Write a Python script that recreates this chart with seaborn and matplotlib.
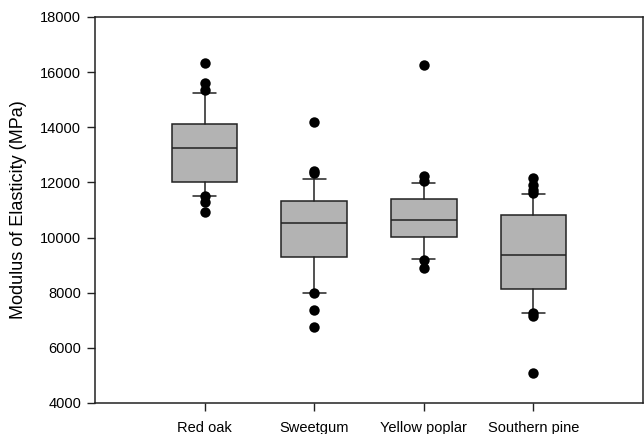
import matplotlib
matplotlib.use("Agg")
import matplotlib.pyplot as plt
import seaborn as sns
import pandas as pd

# ---- data ----
species = ["Red oak", "Sweetgum", "Yellow poplar", "Southern pine"]
q1 = [12030, 9300, 10030, 8140]
median = [13240, 10520, 10620, 9360]
q3 = [14110, 11320, 11390, 10810]
whisker_low = [11520, 8000, 9210, 7280]
whisker_high = [15240, 12120, 11990, 11570]
outliers_red_oak = [16330, 15600, 15350, 11500, 11280, 10940]
outliers_sweetgum = [14180, 12400, 12330, 7980, 7370, 6750]
outliers_yellow_poplar = [16270, 12230, 12060, 9200, 8890]
outliers_southern_pine = [12150, 11910, 11730, 11600, 7260, 7150, 5100]
outliers = [outliers_red_oak, outliers_sweetgum, outliers_yellow_poplar, outliers_southern_pine]
y_ticks = [4000, 6000, 8000, 10000, 12000, 14000, 16000, 18000]

sns.set_theme(style="ticks")
plt.rcParams["font.family"] = ["Liberation Sans", "DejaVu Sans"]
plt.rcParams["text.color"] = "black"
plt.rcParams["axes.labelcolor"] = "black"
plt.rcParams["xtick.color"] = "black"
plt.rcParams["ytick.color"] = "black"

fig = plt.figure(figsize=(6.44, 4.34), dpi=100)
ax = fig.add_axes([95 / 644, 1 - 403 / 434, 548 / 644, 386 / 434])

stats = []
for i, name in enumerate(species):
    stats.append(dict(label=name, q1=q1[i], med=median[i], q3=q3[i],
                      whislo=whisker_low[i], whishi=whisker_high[i], fliers=[]))

edge = "#222222"
ax.bxp(stats, positions=range(len(species)), widths=0.6, patch_artist=True,
       showfliers=False, manage_ticks=False,
       boxprops=dict(facecolor="#b3b3b3", edgecolor=edge, linewidth=1.1),
       medianprops=dict(color=edge, linewidth=1.1),
       whiskerprops=dict(color=edge, linewidth=1.1),
       capprops=dict(color=edge, linewidth=1.1),
       capwidths=0.21)

out_df = pd.DataFrame({
    "Species": [s for s, o in zip(species, outliers) for _ in o],
    "MOE": [v for o in outliers for v in o],
})
sns.stripplot(data=out_df, x="Species", y="MOE", order=species, jitter=False,
              color="black", size=7.5, linewidth=0, ax=ax, zorder=5)

ax.set_xlim(-1, 4)
ax.set_ylim(4000, 18000)
ax.set_yticks(y_ticks)
ax.set_xticks(range(len(species)))
ax.set_xticklabels(species, fontsize=10.5)
ax.tick_params(axis="y", labelsize=10.5, length=6, width=1, color=edge, labelcolor="black", pad=4)
ax.tick_params(axis="x", length=6, width=1, color=edge, labelcolor="black", pad=7)
ax.set_xlabel("")
ax.set_ylabel("Modulus of Elasticity (MPa)", fontsize=13, labelpad=9, color="black")
for s in ax.spines.values():
    s.set_visible(True)
    s.set_color(edge)
    s.set_linewidth(1.1)

fig.savefig("out.png", dpi=100)
